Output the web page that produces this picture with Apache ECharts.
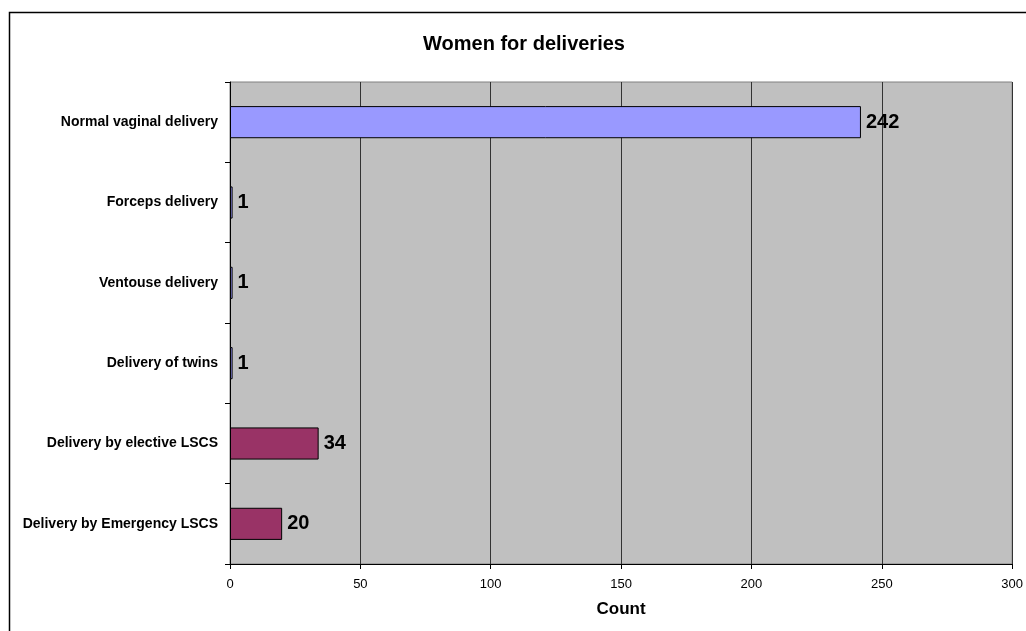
<!DOCTYPE html>
<html>
<head>
<meta charset="utf-8">
<script src="https://cdn.jsdelivr.net/npm/echarts@6/dist/echarts.min.js"></script>
<style>
  html, body { margin: 0; padding: 0; background: #ffffff; }
  #chart { width: 1026px; height: 631px; }
</style>
</head>
<body>
<div id="chart"></div>
<script>
// Delivery types, top to bottom
const categories = [
  'Normal vaginal delivery',
  'Forceps delivery',
  'Ventouse delivery',
  'Delivery of twins',
  'Delivery by elective LSCS',
  'Delivery by Emergency LSCS'
];
const counts = [242, 1, 1, 1, 34, 20];
const barColors = ['#9999FF', '#9999FF', '#9999FF', '#9999FF', '#993366', '#993366'];
const xTicks = { min: 0, max: 300, interval: 50 };
const chartTitle = 'Women for deliveries';

const FONT = 'Arial, "Liberation Sans", sans-serif';

const chart = echarts.init(document.getElementById('chart'), null, { renderer: 'canvas' });

chart.setOption({
  animation: false,
  backgroundColor: '#ffffff',
  graphic: [{
    type: 'rect',
    shape: { x: 9.5, y: 12.5, width: 1100, height: 700 },
    style: { fill: 'none', stroke: '#000', lineWidth: 1.5 },
    silent: true,
    z: -10
  }, {
    type: 'text',
    x: 524,
    y: 44,
    style: {
      text: chartTitle,
      fontFamily: FONT,
      fontSize: 20,
      fontWeight: 'bold',
      fill: '#000',
      align: 'center',
      verticalAlign: 'middle'
    },
    silent: true
  }],
  grid: {
    left: 230, top: 82, right: 12, bottom: 67,
    show: true,
    backgroundColor: '#C0C0C0',
    borderColor: '#808080',
    borderWidth: 1
  },
  xAxis: {
    type: 'value',
    min: xTicks.min, max: xTicks.max, interval: xTicks.interval,
    name: 'Count',
    nameLocation: 'middle',
    nameGap: 37,
    nameTextStyle: { fontFamily: FONT, fontSize: 17, fontWeight: 'bold', color: '#000' },
    axisLine: { show: true, lineStyle: { color: '#000', width: 1 } },
    axisTick: { show: true, length: 5, lineStyle: { color: '#000' } },
    axisLabel: { fontFamily: FONT, fontSize: 13, color: '#000', margin: 14 },
    splitLine: { show: true, lineStyle: { color: '#333', width: 1 } }
  },
  yAxis: {
    type: 'category',
    data: categories,
    inverse: true,
    axisLine: { show: true, lineStyle: { color: '#000', width: 1 } },
    axisTick: { show: true, length: 5, lineStyle: { color: '#000' } },
    axisLabel: { fontFamily: FONT, fontSize: 14, fontWeight: 'bold', color: '#000', margin: 12 },
    splitLine: { show: false }
  },
  series: [{
    type: 'bar',
    data: counts.map((v, i) => ({
      value: v,
      itemStyle: { color: barColors[i] }
    })),
    barWidth: '40%',
    itemStyle: { borderColor: '#000', borderWidth: 1 },
    label: {
      show: true,
      position: 'right',
      distance: 5,
      fontFamily: FONT,
      fontSize: 20,
      fontWeight: 'bold',
      color: '#000'
    }
  }]
});
</script>
</body>
</html>
